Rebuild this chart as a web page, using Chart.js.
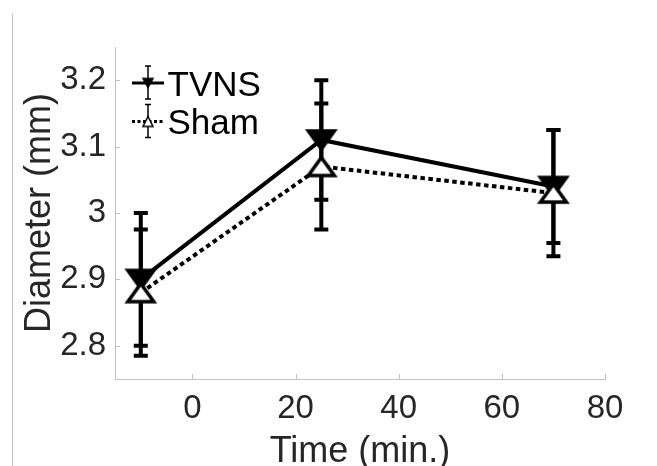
<!DOCTYPE html>
<html>
<head>
<meta charset="utf-8">
<script src="https://cdn.jsdelivr.net/npm/chart.js@4.4.1/dist/chart.umd.min.js"></script>
<style>
  html, body { margin: 0; padding: 0; background: #fff; }
  #wrap { position: relative; width: 657px; height: 466px; overflow: hidden; }
  #frame { position: absolute; left: 12px; top: 13px; bottom: 0; border-left: 1px solid #c6c6c6; }
  canvas { display: block; }
</style>
</head>
<body>
<div id="wrap">
  <div id="frame"></div>
  <canvas id="chart" width="657" height="466"></canvas>
</div>
<script>
// values
const timePoints = [-10, 25, 70];
const tvnsMean = [2.90, 3.11, 3.04];
const tvnsErr = [0.10, 0.09, 0.085];
const shamMean = [2.88, 3.07, 3.03];
const shamErr = [0.095, 0.095, 0.095];

const xTickValues = [0, 20, 40, 60, 80];
const xTickLabels = ['0', '20', '40', '60', '80'];
const yTickValues = [2.8, 2.9, 3.0, 3.1, 3.2];
const yTickLabels = ['2.8', '2.9', '3', '3.1', '3.2'];

const fontFamily = '"Liberation Sans", Arial, Helvetica, sans-serif';
const textColor = '#262626';
const axisGray = '#c0c0c0';

// triangle marker drawn on a small canvas, used as pointStyle
function triangleMarker(w, h, lw, down, fill) {
	const pad = Math.ceil(lw * 2);
	const c = document.createElement('canvas');
	c.width = w + pad * 2;
	c.height = h + pad * 2;
	const g = c.getContext('2d');
	g.translate(pad, pad);
	g.beginPath();
	if (down) {
		g.moveTo(0, 0); g.lineTo(w, 0); g.lineTo(w / 2, h);
	} else {
		g.moveTo(w / 2, 0); g.lineTo(w, h); g.lineTo(0, h);
	}
	g.closePath();
	g.fillStyle = fill;
	g.fill();
	g.lineWidth = lw;
	g.lineJoin = 'miter';
	g.strokeStyle = '#000';
	g.stroke();
	return c;
}

const toPoints = (xs, ys) => xs.map((t, i) => ({x: t, y: ys[i]}));

// vertical error bars with caps, under the lines and markers
const errorBars = {
	id: 'errorBars',
	beforeDatasetsDraw(chart) {
		const {ctx, scales: {x, y}} = chart;
		ctx.save();
		ctx.strokeStyle = '#000';
		ctx.lineWidth = 4;
		ctx.lineCap = 'butt';
		chart.data.datasets.forEach(ds => {
			ds.data.forEach((p, i) => {
				const px = x.getPixelForValue(p.x);
				const top = y.getPixelForValue(p.y + ds.errors[i]);
				const bot = y.getPixelForValue(p.y - ds.errors[i]);
				ctx.beginPath();
				ctx.moveTo(px, top); ctx.lineTo(px, bot);
				ctx.moveTo(px - 7, top); ctx.lineTo(px + 7, top);
				ctx.moveTo(px - 7, bot); ctx.lineTo(px + 7, bot);
				ctx.stroke();
			});
		});
		ctx.restore();
	}
};

// small inward tick marks like matlab
const inwardTicks = {
	id: 'inwardTicks',
	beforeDatasetsDraw(chart) {
		const {ctx, chartArea, scales: {x, y}} = chart;
		ctx.save();
		ctx.strokeStyle = axisGray;
		ctx.lineWidth = 1;
		ctx.beginPath();
		x.ticks.forEach(t => {
			const px = Math.round(x.getPixelForValue(t.value)) + 0.5;
			ctx.moveTo(px, chartArea.bottom); ctx.lineTo(px, chartArea.bottom - 5);
		});
		y.ticks.forEach(t => {
			const py = Math.round(y.getPixelForValue(t.value)) + 0.5;
			ctx.moveTo(chartArea.left, py); ctx.lineTo(chartArea.left + 5, py);
		});
		ctx.stroke();
		ctx.restore();
	}
};

// legend inside the axes, icon = line + marker + error bar
const insideLegend = {
	id: 'insideLegend',
	afterDatasetsDraw(chart) {
		const {ctx, chartArea} = chart;
		chart.data.datasets.forEach((ds, i) => {
			const cy = chartArea.top + 36 + i * 38.5;
			const x0 = chartArea.left + 17;
			const x1 = x0 + 32;
			const xm = (x0 + x1) / 2;
			ctx.save();
			ctx.strokeStyle = '#000';
			ctx.lineWidth = 3;
			ctx.setLineDash(ds.legendDash);
			ctx.beginPath();
			ctx.moveTo(x0, cy); ctx.lineTo(x1, cy);
			ctx.stroke();
			ctx.setLineDash([]);
			ctx.lineWidth = 1.5;
			ctx.beginPath();
			ctx.moveTo(xm, cy - 17); ctx.lineTo(xm, cy + 16);
			ctx.moveTo(xm - 3, cy - 17); ctx.lineTo(xm + 3, cy - 17);
			ctx.moveTo(xm - 3, cy + 16); ctx.lineTo(xm + 3, cy + 16);
			ctx.stroke();
			const m = ds.legendMarker;
			ctx.drawImage(m, xm - m.width / 2, cy - m.height / 2);
			ctx.fillStyle = '#000';
			ctx.font = '35px ' + fontFamily;
			ctx.textBaseline = 'middle';
			ctx.textAlign = 'left';
			ctx.fillText(ds.label, chartArea.left + 52.5, cy + 3);
			ctx.restore();
		});
	}
};

const ctx = document.getElementById('chart').getContext('2d');

new Chart(ctx, {
	type: 'line',
	data: {
		datasets: [{
			label: 'TVNS',
			data: toPoints(timePoints, tvnsMean),
			errors: tvnsErr,
			borderColor: '#000',
			borderWidth: 4,
			borderCapStyle: 'butt',
			pointStyle: triangleMarker(26, 18, 3.5, true, '#000'),
			pointRadius: 10,
			legendMarker: triangleMarker(10, 9, 1.5, true, '#000'),
			legendDash: [],
			order: 1
		}, {
			label: 'Sham',
			data: toPoints(timePoints, shamMean),
			errors: shamErr,
			borderColor: '#000',
			borderWidth: 4,
			borderDash: [4.5, 3.5],
			borderCapStyle: 'butt',
			pointStyle: triangleMarker(26, 18, 3.5, false, '#fff'),
			pointRadius: 10,
			legendMarker: triangleMarker(10, 10, 1.5, false, '#fff'),
			legendDash: [3, 2.5],
			order: 0
		}]
	},
	options: {
		responsive: false,
		animation: false,
		events: [],
		layout: {padding: {left: 0, top: 47, right: 52, bottom: 0}},
		plugins: {
			legend: {display: false},
			tooltip: {enabled: false}
		},
		scales: {
			x: {
				type: 'linear',
				min: -15,
				max: 80,
				afterBuildTicks: s => { s.ticks = xTickValues.map(v => ({value: v})); },
				afterFit: s => { s.height = 87; },
				grid: {drawOnChartArea: false, drawTicks: false},
				border: {color: axisGray, width: 1},
				ticks: {
					color: textColor,
					font: {family: fontFamily, size: 33, lineHeight: 1},
					padding: 13.5,
					maxRotation: 0,
					autoSkip: false,
					callback: (v, i) => xTickLabels[i]
				},
				title: {
					display: true,
					text: 'Time (min.)',
					color: textColor,
					font: {family: fontFamily, size: 36, lineHeight: 0.8},
					padding: 0
				}
			},
			y: {
				min: 2.75,
				max: 3.25,
				afterBuildTicks: s => { s.ticks = yTickValues.map(v => ({value: v})); },
				afterFit: s => { s.width = 115; },
				grid: {drawOnChartArea: false, drawTicks: false},
				border: {color: axisGray, width: 1},
				ticks: {
					color: textColor,
					font: {family: fontFamily, size: 33, lineHeight: 1},
					padding: 9,
					autoSkip: false,
					callback: (v, i) => yTickLabels[i]
				},
				title: {
					display: true,
					text: 'Diameter (mm)',
					color: textColor,
					font: {family: fontFamily, size: 36, lineHeight: 0.8},
					padding: {top: 26, bottom: 0}
				}
			}
		}
	},
	plugins: [inwardTicks, errorBars, insideLegend]
});
</script>
</body>
</html>
